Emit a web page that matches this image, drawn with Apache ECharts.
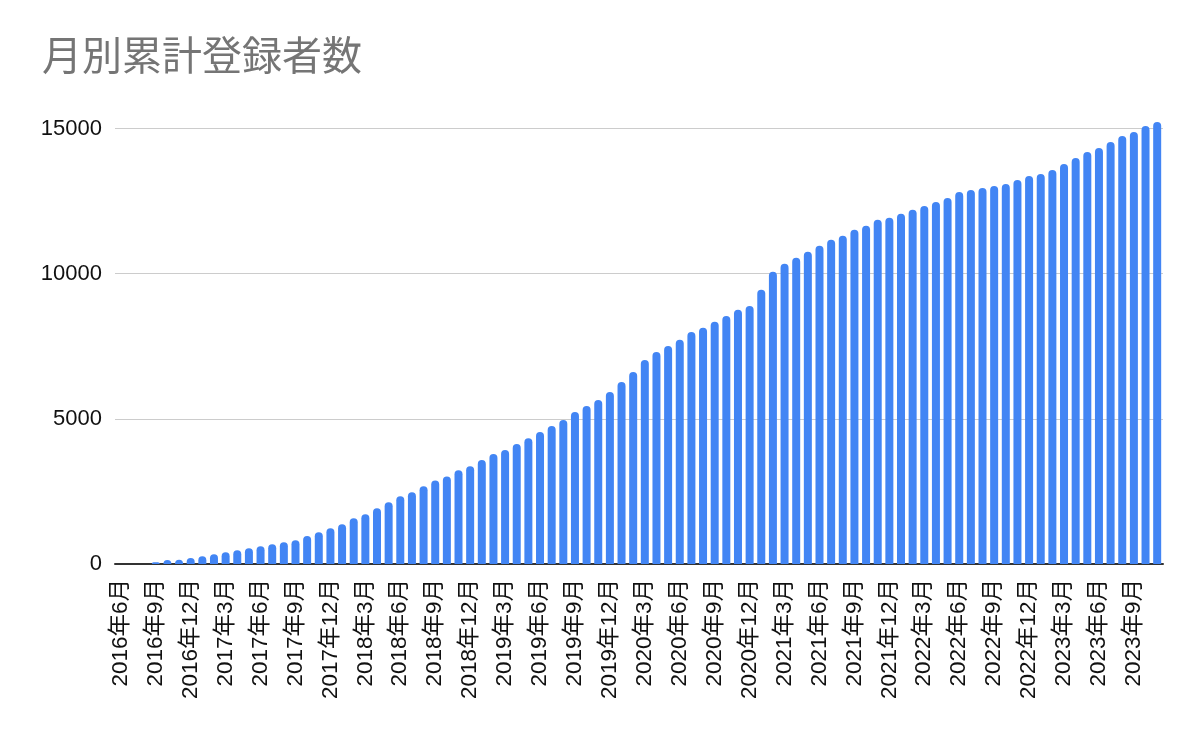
<!DOCTYPE html>
<html>
<head>
<meta charset="utf-8">
<script src="https://cdn.jsdelivr.net/npm/echarts@6/dist/echarts.min.js"></script>
<style>
html,body{margin:0;padding:0;background:#fff;}
#chart{width:1200px;height:742px;}
</style>
</head>
<body>
<div id="chart"></div>
<script>
const titleText = '月別累計登録者数';
const months = [
  '2016年6月','2016年7月','2016年8月','2016年9月','2016年10月','2016年11月','2016年12月',
  '2017年1月','2017年2月','2017年3月','2017年4月','2017年5月','2017年6月','2017年7月','2017年8月','2017年9月','2017年10月','2017年11月','2017年12月',
  '2018年1月','2018年2月','2018年3月','2018年4月','2018年5月','2018年6月','2018年7月','2018年8月','2018年9月','2018年10月','2018年11月','2018年12月',
  '2019年1月','2019年2月','2019年3月','2019年4月','2019年5月','2019年6月','2019年7月','2019年8月','2019年9月','2019年10月','2019年11月','2019年12月',
  '2020年1月','2020年2月','2020年3月','2020年4月','2020年5月','2020年6月','2020年7月','2020年8月','2020年9月','2020年10月','2020年11月','2020年12月',
  '2021年1月','2021年2月','2021年3月','2021年4月','2021年5月','2021年6月','2021年7月','2021年8月','2021年9月','2021年10月','2021年11月','2021年12月',
  '2022年1月','2022年2月','2022年3月','2022年4月','2022年5月','2022年6月','2022年7月','2022年8月','2022年9月','2022年10月','2022年11月','2022年12月',
  '2023年1月','2023年2月','2023年3月','2023年4月','2023年5月','2023年6月','2023年7月','2023年8月','2023年9月','2023年10月','2023年11月'
];
const registrations = [
  0, 0, 0, 60, 140, 150, 210,
  265, 335, 405, 470, 540, 610, 680, 750, 820, 965, 1095, 1230,
  1370, 1575, 1715, 1920, 2125, 2330, 2470, 2675, 2880, 3010, 3230, 3370,
  3580, 3785, 3925, 4130, 4335, 4545, 4750, 4960, 5235, 5440, 5650, 5925,
  6270, 6615, 7030, 7305, 7510, 7720, 7995, 8135, 8340, 8545, 8755, 8890,
  9445, 10065, 10340, 10550, 10755, 10960, 11170, 11305, 11515, 11650, 11860, 11930,
  12065, 12200, 12330, 12465, 12605, 12810, 12880, 12950, 13020, 13090, 13225, 13360,
  13430, 13570, 13775, 13980, 14190, 14325, 14535, 14740, 14880, 15085, 15225
];
const yTicks = [0, 5000, 10000, 15000];

const chart = echarts.init(document.getElementById('chart'), null, {renderer: 'canvas'});
const fontFam = 'Arial, "Liberation Sans", "Noto Sans CJK JP", sans-serif';
chart.setOption({
  animation: false,
  backgroundColor: '#ffffff',
  title: {
    text: titleText,
    left: 37,
    top: 30,
    textStyle: {
      color: '#757575',
      fontSize: 40,
      fontWeight: 'normal',
      fontFamily: '"Noto Sans CJK JP", sans-serif'
    }
  },
  grid: {
    left: 115,
    right: 37,
    top: 128.5,
    bottom: 178,
    containLabel: false
  },
  xAxis: {
    type: 'category',
    data: months,
    axisLine: {show: true, lineStyle: {color: '#333333', width: 2}},
    axisTick: {show: false},
    axisLabel: {
      interval: 2,
      rotate: 90,
      margin: 15,
      color: '#111111',
      fontSize: 22.5,
      fontFamily: fontFam
    }
  },
  yAxis: {
    type: 'value',
    min: yTicks[0],
    max: yTicks[yTicks.length - 1],
    interval: 5000,
    axisLine: {show: false},
    axisTick: {show: false},
    splitLine: {lineStyle: {color: '#cccccc', width: 1}},
    axisLabel: {
      margin: 13,
      color: '#111111',
      fontSize: 22,
      fontFamily: fontFam,
      formatter: function (v) { return String(v); }
    }
  },
  series: [{
    type: 'bar',
    data: registrations,
    barWidth: 8,
    clip: false,
    itemStyle: {color: '#4285f4', borderRadius: [4, 4, 0, 0]}
  }]
});
</script>
</body>
</html>
